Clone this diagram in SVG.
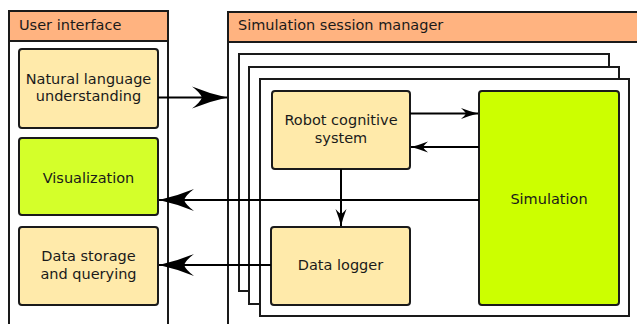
<svg xmlns="http://www.w3.org/2000/svg" width="637" height="324" viewBox="0 0 637 324">
<defs>
<style>
text{font-family:"DejaVu Sans","Liberation Sans",sans-serif;font-size:14.5px;fill:#1a1a1a}
.c{text-anchor:middle}
.hdr{fill:#ffb380;stroke:#1a1a1a;stroke-width:2}
.body{fill:#fff;stroke:#1a1a1a;stroke-width:2}
.y{fill:#ffeaaa;stroke:#1a1a1a;stroke-width:2}
.g1{fill:#d4ff2a;stroke:#1a1a1a;stroke-width:2}
.g2{fill:#ccff00;stroke:#1a1a1a;stroke-width:2}
.ln{fill:none;stroke:#000;stroke-width:2}
</style>
<marker id="big" markerUnits="userSpaceOnUse" markerWidth="40" markerHeight="24" viewBox="-36 -12 38 24" refX="0" refY="0" orient="auto">
<path d="M0,0 Q-18,-4 -35,-11 Q-27,-5 -25,0 Q-27,5 -35,11 Q-18,4 0,0 z" fill="#000"/>
</marker>
<marker id="sm" markerUnits="userSpaceOnUse" markerWidth="20" markerHeight="14" viewBox="-18 -7 20 14" refX="0" refY="0" orient="auto">
<path d="M0,0 Q-8,-2 -17,-5.5 Q-13,-2 -12,0 Q-13,2 -17,5.5 Q-8,2 0,0 z" fill="#000"/>
</marker>
</defs>

<g id="user-interface">
<rect class="body" x="9" y="11" width="159" height="330"/>
<rect class="hdr" x="9" y="11" width="159" height="30"/>
<text x="19" y="30">User interface</text>
</g>

<g id="session-manager">
<rect class="body" x="228" y="12" width="420" height="330"/>
<rect class="hdr" x="228" y="12" width="420" height="30"/>
<text x="238" y="30">Simulation session manager</text>
</g>

<g id="stack">
<rect class="body" x="239" y="54" width="370" height="237"/>
<rect class="body" x="249" y="67" width="370" height="237"/>
<rect class="body" x="260" y="79" width="369" height="237"/>
</g>

<g id="nlu">
<rect class="y" x="19" y="49" width="139" height="79" rx="3"/>
<text class="c" x="88.5" y="84">Natural language</text>
<text class="c" x="88.5" y="101">understanding</text>
</g>

<g id="visualization">
<rect class="g1" x="19" y="138" width="139" height="77" rx="3"/>
<text class="c" x="88.5" y="183">Visualization</text>
</g>

<g id="data-storage">
<rect class="y" x="19" y="227" width="139" height="78" rx="3"/>
<text class="c" x="88.5" y="261">Data storage</text>
<text class="c" x="88.5" y="279">and querying</text>
</g>

<g id="robot">
<rect class="y" x="272" y="91" width="138" height="78" rx="3"/>
<text class="c" x="341" y="125">Robot cognitive</text>
<text class="c" x="341" y="143">system</text>
</g>

<g id="data-logger">
<rect class="y" x="271" y="227" width="139" height="78" rx="3"/>
<text class="c" x="340.5" y="270">Data logger</text>
</g>

<g id="simulation">
<rect class="g2" x="479" y="91" width="140" height="214" rx="3"/>
<text class="c" x="549" y="204">Simulation</text>
</g>

<g id="connectors">
<path class="ln" d="M158,97.5 H227" marker-end="url(#big)"/>
<path class="ln" d="M410,113.5 H478" marker-end="url(#sm)"/>
<path class="ln" d="M479,147 H411" marker-end="url(#sm)"/>
<path class="ln" d="M341,169 V226" marker-end="url(#sm)"/>
<path class="ln" d="M479,200 H159" marker-end="url(#big)"/>
<path class="ln" d="M271,265 H159" marker-end="url(#big)"/>
</g>
</svg>
